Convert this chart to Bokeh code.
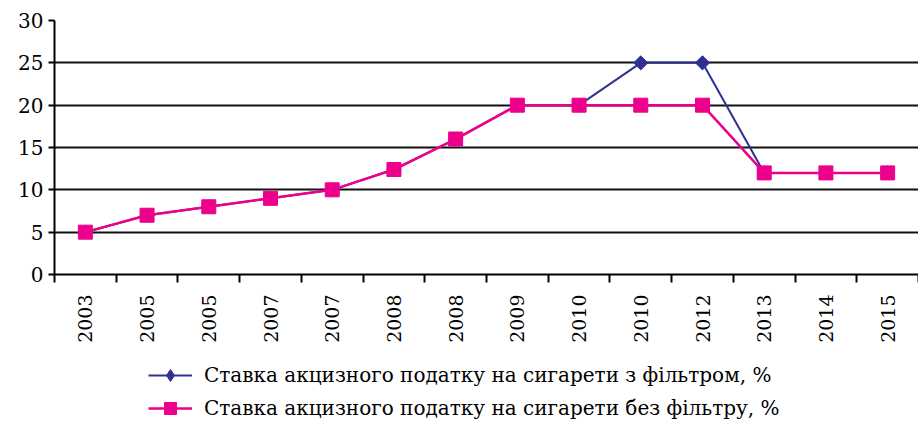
import math
from bokeh.plotting import figure
from bokeh.layouts import column
from bokeh.models import Range1d, FixedTicker, Legend, LegendItem
from bokeh.embed import file_html
from bokeh.resources import INLINE

years = ["2003", "2005", "2005", "2007", "2007", "2008", "2008", "2009",
         "2010", "2010", "2012", "2013", "2014", "2015"]
with_filter = [5, 7, 8, 9, 10, 12.4, 16, 20, 20, 25, 25, 12, 12, 12]
without_filter = [5, 7, 8, 9, 10, 12.4, 16, 20, 20, 20, 20, 12, 12, 12]
label_with = "Ставка акцизного податку на сигарети з фільтром, %"
label_without = "Ставка акцизного податку на сигарети без фільтру, %"

xs = [i + 0.5 for i in range(len(years))]
FONT = "DejaVu Serif"
NAVY = "#2E3192"
PINK = "#EC008C"

p = figure(width=918, height=355, x_range=Range1d(0, len(years)), y_range=Range1d(0, 30),
           output_backend="svg", toolbar_location=None,
           min_border_left=54, min_border_right=0, min_border_top=20, min_border_bottom=81)
p.outline_line_color = None

# axes
p.xaxis.ticker = FixedTicker(ticks=xs, minor_ticks=list(range(len(years) + 1)))
p.xaxis.major_label_overrides = {x: y for x, y in zip(xs, years)}
p.xaxis.major_label_orientation = math.pi / 2
p.xaxis.major_tick_line_color = None
p.xaxis.minor_tick_in = 0
p.xaxis.minor_tick_out = 8
p.xaxis.minor_tick_line_color = "black"
p.xaxis.minor_tick_line_width = 2
p.xaxis.axis_line_color = "black"
p.xaxis.axis_line_width = 2
p.xaxis.major_label_text_font = FONT
p.xaxis.major_label_text_font_size = "19px"
p.xaxis.major_label_text_color = "black"
p.xaxis.major_label_standoff = 12

p.yaxis.ticker = FixedTicker(ticks=[0, 5, 10, 15, 20, 25, 30])
p.yaxis.minor_tick_line_color = None
p.yaxis.major_tick_in = 0
p.yaxis.major_tick_out = 6
p.yaxis.major_tick_line_width = 2
p.yaxis.major_tick_line_color = "black"
p.yaxis.axis_line_color = "black"
p.yaxis.axis_line_width = 2
p.yaxis.major_label_text_font = FONT
p.yaxis.major_label_text_font_size = "20px"
p.yaxis.major_label_text_color = "black"
p.yaxis.major_label_standoff = 5

p.xgrid.grid_line_color = None
p.ygrid.grid_line_color = "#111111"
p.ygrid.grid_line_width = 2

p.line(xs, with_filter, line_color=NAVY, line_width=2)
p.scatter(xs, with_filter, marker="square", angle=math.pi / 4, size=10,
          fill_color=NAVY, line_color=NAVY)
p.line(xs, without_filter, line_color=PINK, line_width=2.5)
p.scatter(xs, without_filter, marker="square", size=14, fill_color=PINK, line_color=PINK)

# legend panel
p2 = figure(width=918, height=66, x_range=Range1d(0, 1), y_range=Range1d(0, 1),
            output_backend="svg", toolbar_location=None, min_border=0,
            x_axis_location=None, y_axis_location=None)
p2.outline_line_color = None
p2.grid.visible = False
l1 = p2.line([-10, -9], [-10, -9], line_color=NAVY, line_width=2)
s1 = p2.scatter([-10], [-10], marker="diamond", size=12, fill_color=NAVY, line_color=NAVY)
l2 = p2.line([-10, -9], [-10, -9], line_color=PINK, line_width=2.5)
s2 = p2.scatter([-10], [-10], marker="square", size=12, fill_color=PINK, line_color=PINK)

legend = Legend(items=[LegendItem(label=label_with, renderers=[l1, s1]),
                       LegendItem(label=label_without, renderers=[l2, s2])],
                location=(94, -2), orientation="vertical")
legend.label_text_font = FONT
legend.label_text_font_size = "20px"
legend.label_text_color = "black"
legend.glyph_width = 44
legend.glyph_height = 30
legend.label_height = 30
legend.label_standoff = 12
legend.spacing = 3
legend.padding = 0
legend.margin = 0
legend.border_line_color = None
legend.background_fill_alpha = 0
p2.add_layout(legend)

open("out.html", "w").write(file_html(column(p, p2, spacing=0), INLINE))
